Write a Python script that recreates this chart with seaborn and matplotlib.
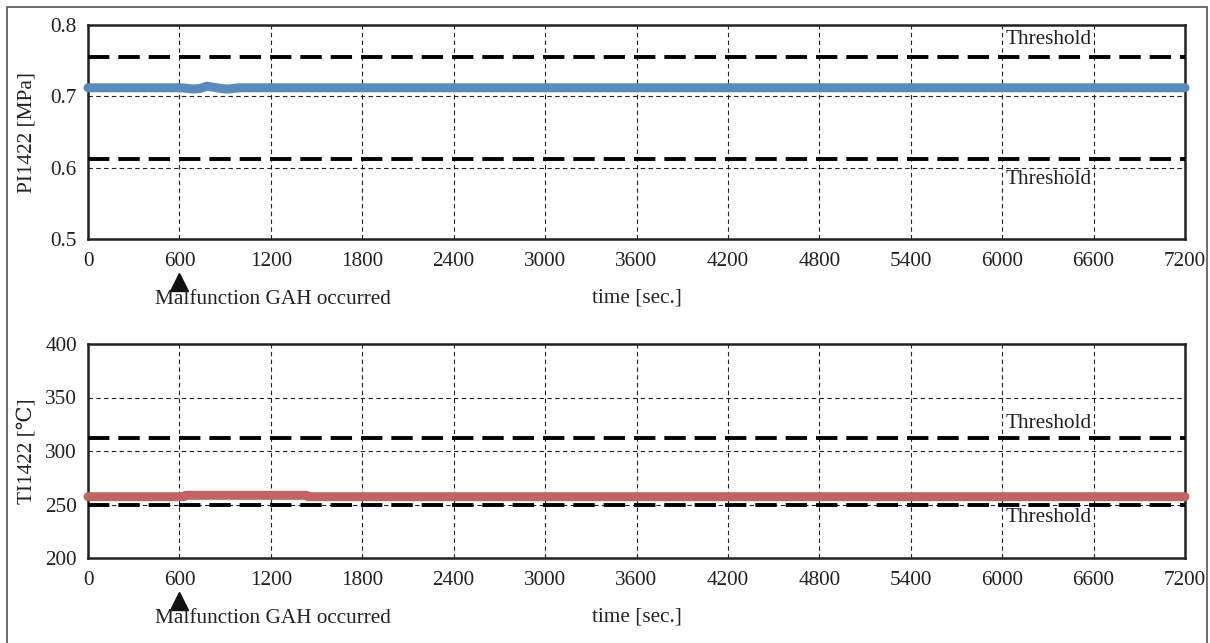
import matplotlib
matplotlib.use("Agg")
import matplotlib.pyplot as plt
import matplotlib.transforms as mtransforms
from matplotlib.patches import Rectangle
import seaborn as sns
import pandas as pd

# ---- data ----
pi_time = [0, 600, 650, 690, 740, 780, 830, 880, 920, 970, 1000, 7200]
pi_value = [0.712, 0.712, 0.7113, 0.7102, 0.7112, 0.7142, 0.7125, 0.7108, 0.7102, 0.7115, 0.712, 0.712]
ti_time = [0, 630, 640, 1435, 1445, 7200]
ti_value = [257.3, 257.3, 258.6, 258.6, 257.3, 257.3]
pi_thresholds = [0.7547, 0.6125]
ti_thresholds = [312.5, 249.3]
xticks = [0, 600, 1200, 1800, 2400, 3000, 3600, 4200, 4800, 5400, 6000, 6600, 7200]
pi_yticks = [0.5, 0.6, 0.7, 0.8]
ti_yticks = [200, 250, 300, 350, 400]
event_time = 600
event_label = "Malfunction GAH occurred"

sns.set_style("white")
plt.rcParams['font.family'] = ['Liberation Serif', 'DejaVu Serif']

FS = 15.3
TXT = '#222222'

fig = plt.figure(figsize=(12.1, 6.43), dpi=100)
W, H = 1210, 643
ax1 = fig.add_axes([88 / W, 1 - 239 / H, 1097 / W, 214 / H])
ax2 = fig.add_axes([88 / W, 1 - 558 / H, 1097 / W, 214 / H])

fig.patches.append(Rectangle((7 / W, -0.05), 1200 / W, 1.05 - 7 / H, transform=fig.transFigure,
                             fill=False, edgecolor='#555555', linewidth=1.2))

pi_df = pd.DataFrame({"time": pi_time, "value": pi_value})
ti_df = pd.DataFrame({"time": ti_time, "value": ti_value})

configs = [
    (ax1, pi_df, '#5A8BBC', pi_thresholds, pi_yticks, (0.5, 0.8), "PI1422 [MPa]", [0.779, 0.583], ['0.5', '0.6', '0.7', '0.8']),
    (ax2, ti_df, '#C26463', ti_thresholds, ti_yticks, (200, 400), "TI1422 [℃]", [326, 237.5], ['200', '250', '300', '350', '400']),
]

for ax, df, color, thr, yt, ylim, ylab, tpos, ytl in configs:
    ax.set_xlim(0, 7200)
    ax.set_ylim(*ylim)
    ax.set_xticks(xticks)
    ax.set_yticks(yt)
    ax.set_yticklabels(ytl)
    ax.grid(True, color='#222222', linestyle=(0, (4, 3)), linewidth=0.8)
    ax.set_axisbelow(True)
    for t in thr:
        ax.axhline(t, color='black', linestyle=(0, (5.5, 2.3)), linewidth=2.8, zorder=3)
    sns.lineplot(data=df, x="time", y="value", ax=ax, color=color, linewidth=6.5, zorder=4)
    for ln in ax.get_lines()[-1:]:
        ln.set_solid_capstyle('round')
        ln.set_clip_on(False)
    for s in ax.spines.values():
        s.set_linewidth(1.8)
        s.set_color('#222222')
    ax.tick_params(axis='x', length=0, labelsize=FS, colors=TXT, pad=9.5)
    ax.tick_params(axis='y', length=0, labelsize=FS, colors=TXT, pad=8)
    ax.set_ylabel(ylab, fontsize=FS, color=TXT)
    ax.yaxis.set_label_coords(-0.0465, 0.5)
    ax.set_xlabel("time [sec.]", fontsize=FS, color=TXT)
    ax.xaxis.set_label_coords(0.5, -0.232)
    for yp in tpos:
        ax.text(6020, yp, "Threshold", fontsize=FS, color=TXT, ha='left', va='center', zorder=5)
    trans = mtransforms.blended_transform_factory(ax.transData, ax.transAxes)
    ax.plot([event_time], [-0.2], marker='^', markersize=12.5, color='#111111', transform=trans, clip_on=False)
    ax.text(440, -0.285, event_label, fontsize=FS, color=TXT, ha='left', va='center', transform=trans)

fig.savefig("out.png", dpi=100)
